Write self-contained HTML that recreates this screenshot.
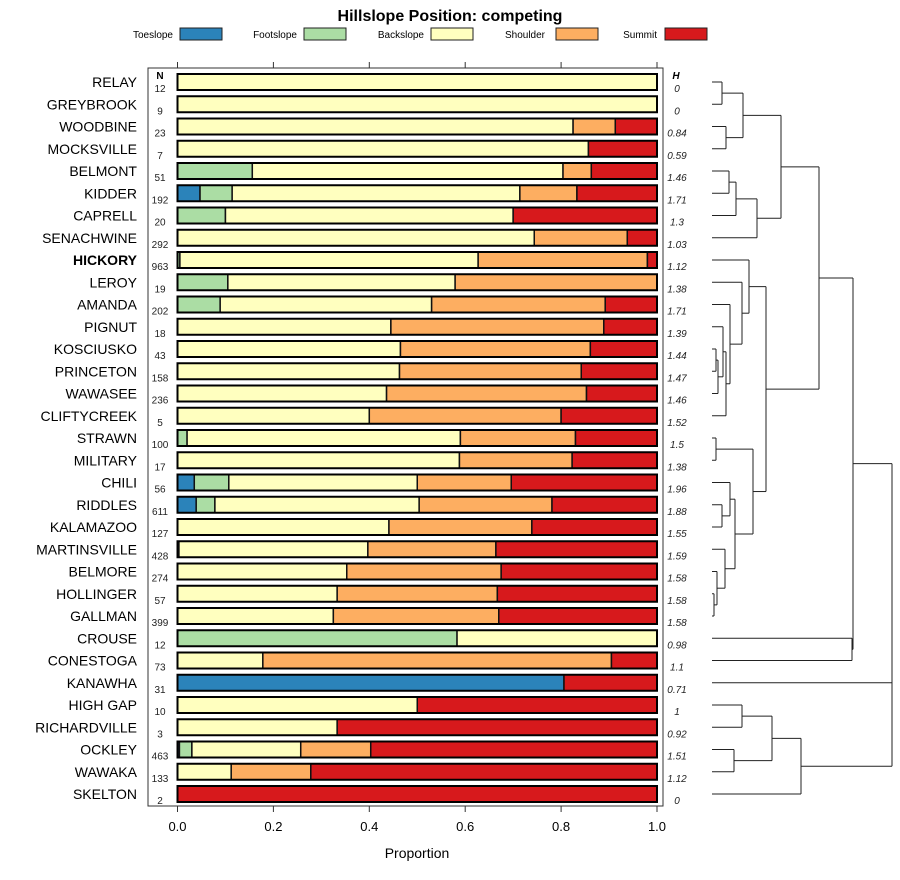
<!DOCTYPE html>
<html><head><meta charset="utf-8"><style>
html,body{margin:0;padding:0;background:#fff;}
svg{display:block;font-family:"Liberation Sans",sans-serif;}
</style></head><body>
<svg id="chart" width="900" height="880" viewBox="0 0 900 880" xmlns="http://www.w3.org/2000/svg">
<text x="450" y="21" text-anchor="middle" font-size="16" font-weight="bold">Hillslope Position: competing</text>
<g id="legend"></g>
<rect x="148" y="68" width="515" height="738" fill="none" stroke="#333" stroke-width="1"/>
<g id="bars"></g>
<g id="axes"></g>
<g id="dendro" fill="none" stroke="#222" stroke-width="1"></g>
<text x="417" y="858" text-anchor="middle" font-size="14">Proportion</text>
</svg>
<script>
const classes = ["Toeslope","Footslope","Backslope","Shoulder","Summit"];
const colors = ["#2b83ba","#abdda4","#ffffbf","#fdae61","#d7191c"];
const series = ["RELAY","GREYBROOK","WOODBINE","MOCKSVILLE","BELMONT","KIDDER","CAPRELL","SENACHWINE","HICKORY","LEROY","AMANDA","PIGNUT","KOSCIUSKO","PRINCETON","WAWASEE","CLIFTYCREEK","STRAWN","MILITARY","CHILI","RIDDLES","KALAMAZOO","MARTINSVILLE","BELMORE","HOLLINGER","GALLMAN","CROUSE","CONESTOGA","KANAWHA","HIGH GAP","RICHARDVILLE","OCKLEY","WAWAKA","SKELTON"];
const nValues = [12,9,23,7,51,192,20,292,963,19,202,18,43,158,236,5,100,17,56,611,127,428,274,57,399,12,73,31,10,3,463,133,2];
const hValues = ["0","0","0.84","0.59","1.46","1.71","1.3","1.03","1.12","1.38","1.71","1.39","1.44","1.47","1.46","1.52","1.5","1.38","1.96","1.88","1.55","1.59","1.58","1.58","1.58","0.98","1.1","0.71","1","0.92","1.51","1.12","0"];
// proportions: toeslope, footslope, backslope, shoulder, summit
const toeslope  = [0,0,0,0,0,0.047,0,0,0,0,0,0,0,0,0,0,0,0,0.035,0.039,0,0.003,0,0,0,0,0,0.806,0,0,0.004,0,0];
const footslope = [0,0,0,0,0.156,0.067,0.10,0,0.005,0.105,0.089,0,0,0,0,0,0.02,0,0.072,0.039,0,0,0,0,0,0.583,0,0,0,0,0.026,0,0];
const backslope = [1,1,0.825,0.857,0.648,0.600,0.60,0.744,0.622,0.474,0.441,0.445,0.465,0.463,0.436,0.40,0.57,0.588,0.393,0.426,0.441,0.394,0.353,0.333,0.325,0.417,0.178,0,0.5,0.333,0.227,0.112,0];
const shoulder  = [0,0,0.088,0,0.059,0.119,0,0.194,0.353,0.421,0.362,0.444,0.396,0.379,0.417,0.40,0.24,0.235,0.196,0.277,0.298,0.267,0.322,0.334,0.345,0,0.727,0,0,0,0.146,0.166,0];
const summit    = [0,0,0.087,0.143,0.137,0.167,0.30,0.062,0.02,0,0.108,0.111,0.139,0.158,0.147,0.20,0.17,0.177,0.304,0.219,0.261,0.336,0.325,0.333,0.33,0,0.095,0.194,0.5,0.667,0.597,0.722,1];
const xTicks = [0,0.2,0.4,0.6,0.8,1.0];
const xTickLabels = ["0.0","0.2","0.4","0.6","0.8","1.0"];
// dendrogram: merges [childA, childB, (childC), height]; leaves are row indices, "n#" refer to earlier merges
const merges = [
 [[0,1],722],[[2,3],726],[["n0","n1"],743],
 [[4,5],729],[["n3",6],736],[["n4",7],757],[["n2","n5"],781],
 [[12,13],716],[["n7",14],718],[[11,"n8"],723],[["n9",15],726],[[10,"n10"],730],[[9,"n11"],742],[[8,"n12"],749],
 [[16,17],716],[[19,20],722],[[18,"n15"],730],[[23,24],714],[[22,"n17"],717],[[21,"n18"],725],[["n16","n19"],735],[["n14","n20"],753],
 [["n13","n21"],766],[["n6","n22"],819],[[25,26],852],[["n23","n24"],853],
 [[28,29],742],[[30,31],734],[["n26","n27"],772],[["n28",32],801],[["n25",27,"n29"],892]
];

const NS="http://www.w3.org/2000/svg";
function mk(tag,attrs,parent,text){const e=document.createElementNS(NS,tag);for(const k in attrs)e.setAttribute(k,attrs[k]);if(text!==undefined)e.textContent=text;parent.appendChild(e);return e;}
const x0=177.5,x1=657;
const xs=v=>x0+(x1-x0)*v;
const ys=i=>82+i*22.25;
const barH=16;

// legend
const lg=document.getElementById('legend');
const legX=[[173,180],[297,304],[424,431],[545,556],[657,665]];
classes.forEach((c,i)=>{
  const t=mk('text',{x:legX[i][0],y:38,'text-anchor':'end','font-size':10},lg,c);
  
  
  const r=mk('rect',{x:legX[i][1],y:28,width:42,height:12,fill:colors[i],stroke:'#222','stroke-width':1},lg);
  
  
});

// bars
const bg=document.getElementById('bars');
const cols=[toeslope,footslope,backslope,shoulder,summit];
series.forEach((s,i)=>{
  const y=ys(i);
  const lab=mk('text',{x:137,y:y+5,'text-anchor':'end','font-size':14,'font-weight':s==='HICKORY'?'bold':'normal'},bg,s);
  
  
  const nt=mk('text',{x:160,y:y+10,'text-anchor':'middle','font-size':10,fill:'#222'},bg,nValues[i]);
  
  
  const ht=mk('text',{x:677,y:y+10,'text-anchor':'middle','font-size':10,'font-style':'italic',fill:'#222'},bg,hValues[i]);
  
  
  let acc=0;
  cols.forEach((arr,k)=>{
    const v=arr[i];
    if(v<=0)return;
    const r=mk('rect',{x:xs(acc),y:y-barH/2,width:xs(acc+v)-xs(acc),height:barH,fill:colors[k],stroke:'#111','stroke-width':1.5},bg);
    
    
    acc+=v;
  });
  const o=mk('rect',{x:xs(0),y:y-barH/2,width:xs(acc)-xs(0),height:barH,fill:'none',stroke:'#000','stroke-width':2},bg);
  
  
});
const nh=mk('text',{x:160,y:79,'text-anchor':'middle','font-size':10,'font-weight':'bold'},bg,'N');


const hh=mk('text',{x:676,y:79,'text-anchor':'middle','font-size':10,'font-weight':'bold','font-style':'italic'},bg,'H');



// axes
const ax=document.getElementById('axes');
xTicks.forEach((t,i)=>{
  const x=xs(t);
  const a=mk('line',{x1:x,x2:x,y1:62,y2:68,stroke:'#333'},ax);
  
  
  const b=mk('line',{x1:x,x2:x,y1:806,y2:812,stroke:'#333'},ax);
  
  
  const l=mk('text',{x:x,y:831,'text-anchor':'middle','font-size':13},ax,xTickLabels[i]);
  
  
});

// dendrogram
const dg=document.getElementById('dendro');
const leafX=712;
const nodes=[];
function pos(c){ if(typeof c==='number') return {x:leafX,y:ys(c)}; return nodes[+c.slice(1)]; }
merges.forEach(m=>{
  const ch=m[0].map(pos), h=m[1];
  ch.forEach(p=>{
    const l=mk('line',{x1:p.x,x2:h,y1:p.y,y2:p.y},dg);
    
    
  });
  const ysArr=ch.map(p=>p.y);
  const lo=Math.min(...ysArr),hi=Math.max(...ysArr);
  const v=mk('line',{x1:h,x2:h,y1:lo,y2:hi},dg);
  
  
  nodes.push({x:h,y:(lo+hi)/2});
});
</script>
</body></html>
